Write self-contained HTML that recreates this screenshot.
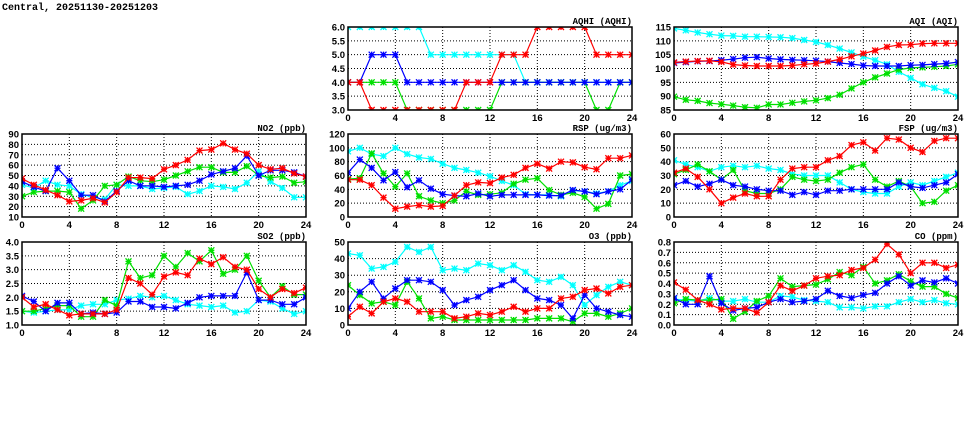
<!DOCTYPE html>
<html><head><meta charset="utf-8"><style>
html,body{margin:0;padding:0;background:#fff;width:975px;height:447px;overflow:hidden}
svg text{font-family:"Liberation Sans",sans-serif;font-weight:bold}
</style></head><body>
<svg id="s" width="975" height="447" xmlns="http://www.w3.org/2000/svg">
<text x="2" y="10" style="font-family:'Liberation Mono',monospace;font-size:10px;font-weight:bold">Central, 20251130-20251203</text>
</svg>
<script>
var P=[
{t:"AQHI (AQHI)",x:348,y:27,lo:3,hi:6,st:0.5,d:1,
 c:[6,6,6,6,6,6,6,5,5,5,5,5,5,5,5,4,4,4,4,4,4,4,4,4,4],
 g:[4,4,4,4,4,3,3,3,3,3,3,3,3,4,4,4,4,4,4,4,4,3,3,4,4],
 b:[4,4,5,5,5,4,4,4,4,4,4,4,4,4,4,4,4,4,4,4,4,4,4,4,4],
 r:[4,4,3,3,3,3,3,3,3,3,4,4,4,5,5,5,6,6,6,6,6,5,5,5,5]},
{t:"AQI (AQI)",x:674,y:27,lo:85,hi:115,st:5,d:0,
 c:[114.5,113.8,113,112.4,111.9,111.8,111.5,111.5,111.4,111.3,111,110.3,109.6,108.5,107.2,105.8,104.3,103,101.5,98.8,96.6,94.3,93,91.8,89.8],
 g:[89.8,88.7,88.3,87.5,87.1,86.6,86,85.8,87,87,87.6,88.1,88.5,89.3,90.5,92.8,95,96.8,98.2,99.6,100.2,100.4,100.6,100.9,101.5],
 b:[102,102.3,102.6,102.7,103,103.4,103.9,104.1,103.6,103.3,103.1,103,102.8,102.5,102,101.6,101.1,100.9,100.9,100.9,101.2,101.3,101.6,101.8,102.3],
 r:[102.2,102.5,102.7,102.8,102.4,101.4,101.1,100.9,100.9,100.9,101.1,101.5,101.8,102.5,103.3,104.4,105.4,106.5,107.8,108.5,108.6,109,109.1,109.1,109.1]},
{t:"NO2 (ppb)",x:22,y:134,lo:10,hi:90,st:10,d:0,
 c:[41,38,45,41,40,32,29,27,41,40,40,37,38,39,32,35,40,39,37,43,54,44,38,29,29],
 g:[30,34,35,35,34,18,26,40,41,49,45,44,46,50,54,58,58,53,53,59,50,48,49,43,44],
 b:[44,39,35,57,45,31,31,25,35,45,40,40,39,40,41,45,51,54,57,69,50,55,55,53,49],
 r:[47,41,36,31,25,26,28,24,34,48,48,47,56,60,65,74,75,81,75,71,60,56,57,52,49]},
{t:"RSP (ug/m3)",x:348,y:134,lo:0,hi:120,st:20,d:0,
 c:[95,100,91,88,100,91,86,84,77,71,68,64,59,52,46,33,32,32,30,38,37,34,37,46,52],
 g:[55,56,92,63,44,63,30,24,20,24,37,32,33,35,48,54,56,39,32,35,29,12,19,60,62],
 b:[64,83,71,53,65,43,53,41,33,31,30,34,30,32,32,32,32,31,31,39,37,33,37,40,54],
 r:[54,54,46,28,12,15,17,15,16,31,46,50,49,57,61,71,77,70,80,79,72,69,85,85,89]},
{t:"FSP (ug/m3)",x:674,y:134,lo:0,hi:60,st:10,d:0,
 c:[41,38,36,33,36,37,36,37,35,34,31,30,30,30,25,20,18,17,17,22,25,23,26,29,32],
 g:[31,34,38,33,27,34,19,17,17,20,29,27,26,27,32,36,38,27,22,26,22,10,11,19,23],
 b:[23,26,22,24,27,23,22,20,19,19,16,18,16,19,19,20,20,20,20,25,22,21,23,25,31],
 r:[32,35,29,20,10,14,17,15,15,27,35,36,36,41,44,52,54,48,57,56,50,47,55,57,57]},
{t:"SO2 (ppb)",x:22,y:242,lo:1,hi:4,st:0.5,d:1,
 c:[1.5,1.45,1.5,1.55,1.55,1.7,1.75,1.75,1.9,1.95,2.05,2.0,2.05,1.9,1.75,1.7,1.65,1.7,1.45,1.5,1.9,1.85,1.6,1.4,1.5],
 g:[1.5,1.5,1.6,1.7,1.7,1.3,1.3,1.9,1.7,3.3,2.7,2.8,3.5,3.1,3.6,3.3,3.7,2.85,3.0,3.5,2.6,2.0,2.4,2.1,2.1],
 b:[2.05,1.85,1.5,1.8,1.8,1.4,1.45,1.4,1.45,1.85,1.85,1.65,1.65,1.6,1.8,2.0,2.05,2.05,2.05,2.9,1.9,1.9,1.75,1.75,2.0],
 r:[2.0,1.65,1.75,1.55,1.35,1.4,1.4,1.4,1.55,2.7,2.5,2.1,2.75,2.9,2.8,3.4,3.2,3.45,3.1,3.0,2.3,2.0,2.3,2.15,2.35]},
{t:"O3 (ppb)",x:348,y:242,lo:0,hi:50,st:10,d:0,
 c:[43,42,34,35,38,47,44,47,33,34,33,37,36,33,36,32,27,26,29,24,12,18,23,26,24],
 g:[24,18,13,14,12,26,16,4,5,3,3,3,3,3,3,3,4,4,4,2,7,7,5,7,10],
 b:[10,20,26,16,22,27,27,26,21,12,15,17,21,24,27,21,16,15,12,4,18,10,8,6,5],
 r:[5,11,7,14,16,14,8,8,8,4,5,7,6,8,11,8,10,10,16,17,21,22,19,23,24]},
{t:"CO (ppm)",x:674,y:242,lo:0,hi:0.8,st:0.1,d:1,
 c:[.25,.24,.23,.26,.23,.23,.25,.22,.22,.28,.27,.24,.23,.22,.17,.17,.16,.18,.18,.22,.25,.22,.24,.21,.20],
 g:[.21,.25,.24,.24,.25,.06,.13,.23,.28,.45,.37,.38,.39,.44,.51,.48,.56,.40,.43,.49,.42,.37,.37,.30,.26],
 b:[.26,.20,.20,.47,.21,.14,.16,.17,.22,.25,.22,.23,.25,.33,.28,.26,.29,.31,.40,.47,.38,.43,.41,.45,.40],
 r:[.41,.34,.24,.20,.15,.16,.16,.12,.22,.38,.33,.38,.45,.47,.48,.53,.55,.63,.78,.68,.50,.60,.60,.55,.58]}
];
var W=284,H=83,o='';
var col={c:"#00ffff",g:"#00e000",b:"#0000ff",r:"#ff0000"};
P.forEach(function(p){
 var X=function(i){return p.x+i*W/24},Y=function(v){return p.y+H-(v-p.lo)/(p.hi-p.lo)*H};
 var n=Math.round((p.hi-p.lo)/p.st);
 for(var k=0;k<=n;k++){var v=p.lo+k*p.st,y=Y(v);
  if(k>0&&k<n)o+='<line x1="'+p.x+'" x2="'+(p.x+W)+'" y1="'+y+'" y2="'+y+'" stroke="#000" stroke-width="1" stroke-dasharray="1,2"/>';
  o+='<text x="'+(p.x-3)+'" y="'+(y+3.5)+'" font-size="9.5" text-anchor="end">'+v.toFixed(p.d)+'</text>';}
 for(var i=0;i<=24;i+=4){var x=X(i);
  if(i>0&&i<24)o+='<line x1="'+x+'" x2="'+x+'" y1="'+p.y+'" y2="'+(p.y+H)+'" stroke="#000" stroke-dasharray="1,2"/>';
  o+='<text x="'+x+'" y="'+(p.y+H+11)+'" font-size="9.5" text-anchor="middle">'+i+'</text>';}
 o+='<text x="'+(p.x+W)+'" y="'+(p.y-3)+'" font-size="9" text-anchor="end" style="font-family:\'Liberation Mono\',monospace">'+p.t+'</text>';
 o+='<svg x="'+p.x+'" y="'+p.y+'" width="'+W+'" height="'+H+'" overflow="hidden"><g transform="translate('+(-p.x)+','+(-p.y)+')">';
 ["c","g","b","r"].forEach(function(s){
  var pts=p[s].map(function(v,i){return X(i).toFixed(1)+','+Y(v).toFixed(1)}).join(' ');
  o+='<polyline points="'+pts+'" fill="none" stroke="'+col[s]+'" stroke-width="1.2"/>';
  p[s].forEach(function(v,i){var x=X(i),y=Y(v),r=3;
   o+='<path d="M'+(x-r)+' '+(y-r)+'L'+(x+r)+' '+(y+r)+'M'+(x-r)+' '+(y+r)+'L'+(x+r)+' '+(y-r)+'M'+(x-r)+' '+y+'H'+(x+r)+'M'+x+' '+(y-r)+'V'+(y+r)+'" stroke="'+col[s]+'" stroke-width="1.3"/>';});
 });
 o+='</g></svg>';
 o+='<rect x="'+p.x+'" y="'+p.y+'" width="'+W+'" height="'+H+'" fill="none" stroke="#000" stroke-width="1.5"/>';
});
document.getElementById('s').insertAdjacentHTML('beforeend',o);
</script>
</body></html>
